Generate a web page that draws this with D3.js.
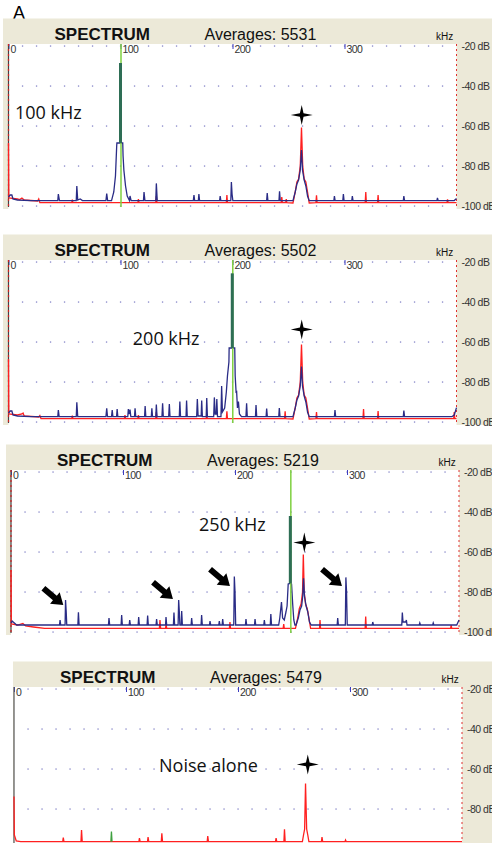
<!DOCTYPE html>
<html>
<head>
  <meta charset="utf-8">
  <script src="https://d3js.org/d3.v7.min.js"></script>
  <style>
    body { margin: 0; background: #fff; }
    svg { display: block; }
    .hdr { font-family: "Liberation Sans", Arial, sans-serif; fill: #111; }
    .tick text { font-family: "Liberation Sans Narrow", "Liberation Sans", Arial, sans-serif; }
    .note { font-family: "Open Sans", "Noto Sans", sans-serif; font-size: 18px; fill: #111; }
  </style>
</head>
<body>
<svg width="492" height="843"></svg>
<script>

// ---- data ----
const freqTicks = [0, 100, 200, 300];
const dbTicks = [-20, -40, -60, -80, -100];
const averages = ["5531", "5502", "5219", "5479"];
const notes = ["100 kHz", "200 kHz", "250 kHz", "Noise alone"];
const notePos = [[5.8, -56.5], [111, -61.5], [167.9, -49.3], [129.5, -61.5]];

// driven tone: frequency, top of the spike, foot of the dark part
const carrierKHz = [100, 199.8, 249.4];
const carrierPeakDb = [-28.5, -25.7, -42];
const carrierFootDb = [-68.5, -63, -75.7];

// star marks over the 262 kHz noise line
const starPos = [[261.8, -54.5], [261.8, -53.7], [261.9, -55.3], [262.3, -57.7]];
// arrows (tip position) in panel 3
const arrowTips = [[46.7, -86.5], [144.6, -83.5], [195.5, -77], [295.5, -77]];

const p1Blue = [[0,-95.5],[1.5,-94.5],[3,-94.5],[4,-96.5],[8,-97],[20,-97.3],
  [44,-97.3],[44.5,-94],[45.5,-97.3],[60.5,-97.3],[61,-90],[61.8,-97],[64,-96.5],[66,-97.3],
  [87,-97.3],[87.7,-93.8],[88.5,-97.3],
  [92,-97.3],[94,-93],[95.5,-85],[96.6,-70],[96.8,-68.5],[99.3,-68.5],[99.5,-28.5],[99.7,-68.5],[102,-68.5],[102.3,-75],[103,-82],[104.5,-90],[106,-95],[108,-97.3],
  [108.5,-95],[109.5,-97.3],[120.5,-97.3],[121,-93],[121.8,-97.3],[131.5,-97.3],[132,-88.7],[132.8,-97.3],
  [165,-97.3],[165.6,-94.5],[166.2,-97.3],[169.5,-97.3],[170,-94],[170.6,-97.3],
  [188.5,-97.3],[189,-95],[189.6,-97.3],[198.5,-97.3],[199,-88],[199.6,-94],[200.3,-97.3],
  [230.5,-97.3],[231,-93.5],[231.6,-97.3],[241.5,-97.3],[242,-92.7],[242.6,-97.3],
  [254,-97.3],[256,-93],[257.5,-89],[259,-87],[260.5,-82],[261.6,-72],[262.5,-82],[264,-87],[265.5,-90],[267,-95],[268.5,-97.3],
  [290.5,-97.3],[291,-95],[291.6,-97.3],[298.5,-97.3],[299,-94],[299.6,-97.3],[306.5,-97.3],[307,-95],[307.6,-97.3],
  [352.5,-97.3],[353,-95],[353.6,-97.3],[382.5,-97.3],[383,-96],[383.6,-97.3],[398,-97.3],[400,-96.3]];

const p1Red = [[0,-68.5],[0.3,-96],[8,-96.5],[10,-96.8],[12,-96],[14,-97],[26,-97.5],[27,-96.5],[28,-98.3],
  [56.5,-98.3],[57,-96.8],[57.5,-98.3],[115.5,-98.3],[116,-96.5],[116.5,-98.3],[131.5,-98.3],[132,-95],[132.5,-98.3],
  [194.5,-98.3],[195,-94.5],[195.5,-98.3],[243.5,-98.3],[244,-95.5],[244.5,-98.3],[247.5,-98.3],[248,-96.5],[248.5,-98.3],
  [254,-98.5],[256,-93],[257.5,-88],[259,-86.5],[260.5,-80],[261.6,-60.8],[262.7,-80],[264,-86.5],[265.5,-88],[267,-93],[268.5,-98.5],
  [274.5,-98.3],[275,-94.7],[275.5,-98.3],[318.5,-98.3],[319,-93],[319.5,-98.3],[329.5,-98.3],[330,-94.5],[330.5,-98.3],
  [391.5,-98.3],[392,-96.7],[392.5,-98.3],[400,-98.3]];

const p2Blue = [[0,-95.5],[1.5,-94.5],[3,-94.5],[4,-96.5],[8,-97],[20,-97.3],
  [44,-97.3],[44.5,-94],[45.2,-97.3],[60.5,-97.3],[61,-90.2],[61.8,-97.3],
  [87,-97.3],[87.7,-93.2],[88.4,-97.3],[92,-97.3],[92.6,-94],[93.2,-97.3],[96.5,-97.3],[97,-93.5],[97.6,-97.3],
  [106.5,-97.3],[107,-93.5],[107.6,-96],[108.5,-93.8],[109.2,-97.3],[112.5,-97.3],[113,-93.2],[113.6,-97.3],
  [121.5,-97.3],[122,-92],[122.6,-97.3],[127.5,-97.3],[128,-93.2],[128.6,-97.3],[131.5,-97.3],[132,-91.3],[132.6,-97.3],
  [137,-97.3],[137.6,-90.7],[138.2,-97.3],[143,-97.3],[143.6,-91],[144.2,-97.3],
  [152.5,-97.3],[153,-89.8],[153.6,-97.3],[158.5,-97.3],[159,-89.3],[159.6,-97.3],
  [168,-97.3],[168.6,-88.5],[169.3,-97],[172,-97],[172.5,-89.3],[173.1,-97.3],[176.5,-97.3],[177,-88],[177.6,-97.3],
  [183.2,-97.3],[183.8,-87.7],[184.5,-96],[185.5,-96],[186,-88.5],[186.6,-97.3],
  [189.7,-97.3],[190.3,-82],[191,-95],[193,-93],[194.5,-85],[195.5,-77],[196.8,-70],[197,-63],[199.6,-63],[199.8,-25.7],[200,-63],[202,-63],
  [202.4,-77],[203.2,-85],[203.7,-84.8],[204.4,-93],[205.3,-89.8],[206.2,-96],[208,-97.3],
  [212,-97.3],[212.6,-90.7],[213.2,-97.3],[220.5,-97.3],[221,-91.5],[221.6,-97.3],[230,-97.3],[230.5,-93.3],[231.1,-97.3],
  [241.3,-97.3],[241.8,-93],[242.4,-97.3],
  [254,-97.3],[256,-93],[257.5,-89],[259,-87],[260.5,-82],[261.6,-72.3],[262.5,-82],[264,-87],[265.5,-90],[267,-95],[268.5,-97.3],
  [291,-97.3],[291.5,-94],[292.1,-97.3],[352.5,-97.3],[353,-94.3],[353.6,-97.3],[396,-97.3],[398,-96.5],[400,-92.8]];

const p2Red = [[0,-68.5],[0.3,-96],[8,-96.5],[12,-96],[13,-95.5],[14,-97],[27,-97.5],[28,-96.8],[29,-98.3],
  [56.5,-98.3],[57,-96.8],[57.5,-98.3],[103.5,-98.3],[104,-96.5],[104.5,-98.3],[115.5,-98.3],[116,-96.5],[116.5,-98.3],
  [131.5,-98.3],[132,-95],[132.5,-98.3],[176.5,-98.3],[177,-96.5],[177.5,-98.3],[194.5,-98.3],[195,-94.7],[195.5,-98.3],
  [246.5,-98.3],[247,-94.7],[247.5,-98.3],
  [254,-98.5],[256,-93],[257.5,-88],[259,-86.5],[260.5,-80],[261.6,-61.2],[262.7,-80],[264,-86.5],[265.5,-88],[267,-93],[268.5,-98.5],
  [274.5,-98.3],[275,-95],[275.5,-98.3],[316.5,-98.3],[317,-93.5],[317.5,-98.3],[329.5,-98.3],[330,-94.5],[330.5,-98.3],
  [397.5,-98.3],[398,-95],[398.5,-98.3],[400,-98.3]];

const p3Blue = [[0,-95.5],[1,-94.5],[3,-95.5],[5,-96.5],
  [43.3,-96.5],[43.8,-94],[44.4,-96.5],[48.3,-96.5],[48.7,-84],[49.3,-90],[49.8,-96.5],[59.7,-96.5],[60.2,-90.2],[60.8,-96.5],
  [87,-96.5],[87.5,-93],[88.1,-96.5],[98.3,-96.5],[98.8,-91.5],[99.4,-96.5],[105.5,-96.5],[106,-94],[106.6,-96.5],
  [113.5,-96.5],[114,-92.5],[114.6,-96.5],[121.5,-96.5],[122,-91.8],[122.6,-96.5],[129.5,-96.5],[130,-93.5],[130.6,-96.5],
  [138,-96.5],[138.4,-92.5],[139,-96.5],[145,-96.5],[145.5,-90.3],[146.1,-96.5],
  [149.2,-96.5],[149.7,-84],[150.3,-90],[150.8,-96.5],[152,-96.5],[152.4,-89.5],[153,-96.5],
  [160.8,-96.5],[161.3,-93],[161.9,-96.5],[169.7,-96.5],[170.2,-91.5],[170.8,-96.5],[177.2,-96.5],[177.7,-94.5],[178.3,-96.5],
  [185.5,-96.5],[186,-94.5],[186.6,-96.5],[188.5,-96.5],[189,-93.5],[189.6,-96.5],
  [198.9,-96.5],[199.4,-72.3],[200,-80],[200.6,-96.5],
  [209.3,-96.5],[209.8,-93.5],[210.4,-96.5],[217.4,-96.5],[217.9,-93.5],[218.5,-96.5],[225.7,-96.5],[226.2,-94],[226.8,-96.5],
  [231.5,-96.5],[232,-91],[232.6,-96.5],
  [239,-96.5],[240,-93],[241.5,-85],[242.5,-93],[244,-94],[245.5,-90],[246.5,-87],[247.5,-76],[249.2,-75.7],[249.4,-42],[249.7,-75.7],
  [250.5,-76],[251.5,-86],[252.5,-94],[253.5,-96.5],
  [254.5,-96.5],[256.5,-93],[258,-89],[259.5,-87],[260.5,-82],[261.2,-73.2],[262,-82],[263.5,-87],[265,-90],[266.5,-95],[268,-96.5],
  [291.2,-96.5],[291.7,-93],[292.3,-96.5],[298.5,-96.5],[299,-72.7],[299.6,-80],[300.2,-96.5],
  [322.5,-96.5],[323,-95],[323.6,-96.5],[348.9,-96.5],[349.4,-90.3],[350,-95],[352.5,-95],[353,-94],[353.6,-96.5],
  [364.5,-96.5],[365,-95.5],[365.6,-96.5],[376.5,-96.5],[377,-95.5],[377.6,-96.5],[398,-96.5],[400,-94]];

const p3Red = [[0,-69],[0.3,-96],[6,-96.5],[10.6,-95.7],[13,-97],[20,-97.5],[30,-98.2],
  [132.5,-98.2],[133,-94],[133.6,-98.2],[138,-98.2],[138.5,-96],[139,-98.2],[195,-98.2],[195.5,-95],[196,-98.2],
  [243,-98.2],[243.5,-96],[244,-98.2],
  [254,-98.2],[256,-93],[257.4,-88.3],[259,-86],[260.3,-80],[261,-61.2],[261.8,-80],[263,-86],[264.5,-88.3],[266,-93],[267.5,-98.2],
  [275.5,-98.2],[275.9,-94],[276.4,-98.2],[316.2,-98.2],[316.7,-92.3],[317.2,-98.2],[392.5,-98.2],[393,-96.5],[393.5,-98.2],[400,-98.2]];

const p4Red = [[0,-73.8],[0.3,-93],[2,-96],[6,-96.3],[43.5,-96.3],[44,-94.3],[44.6,-96.3],[59.8,-96.3],[60.3,-90.5],[60.9,-96.3],
  [111.5,-96.3],[112,-94.5],[112.6,-96.3],[119.2,-96.3],[119.7,-94],[120.3,-96.3],[131.5,-96.3],[132,-92.2],[132.6,-96.3],
  [172.5,-96.3],[173,-93.5],[173.6,-96.3],[233.5,-96.3],[234,-94.5],[234.6,-96.3],[241,-96.3],[241.5,-90.2],[242.1,-96.3],
  [257.5,-96.3],[258.5,-93],[259.5,-90],[260.3,-67.2],[261.3,-90],[262.3,-93],[263.3,-96.3],
  [274.5,-96.3],[275,-94],[275.6,-96.3],[295.5,-96.3],[296,-95.5],[296.6,-96.3],[400,-96.3]];
const p4Green = [[86.5,-96.3],[87,-91.3],[87.5,-96.3]];

const blueSeries = [p1Blue, p2Blue, p3Blue, null];
const redSeries = [p1Red, p2Red, p3Red, p4Red];

// ---- layout ----
const svg = d3.select("svg");
const W = 492;
const frames = [
  { left: 3, x0: 8.5, y20: 46, bottom: 209 },
  { left: 3, x0: 8.5, y20: 262, bottom: 425 },
  { left: 6, x0: 11, y20: 472, bottom: 635 },
  { left: 13, x0: 14, y20: 689, bottom: 843 }
];
const beige = "#ece9d8";
const blue = "#2a2c86";
const red = "#ff2020";

svg.append("text").attr("x", 13).attr("y", 19)
  .attr("font-family", "Liberation Sans, Arial, sans-serif").attr("font-size", 18)
  .text("A");

function star(w, h) {
  const a = 1.8;
  return `M0,${-h}L${a},${-a}L${w},0L${a},${a}L0,${h}L${-a},${a}L${-w},0L${-a},${-a}Z`;
}

frames.forEach((f, i) => {
  const x = d3.scaleLinear().domain([0, 400]).range([f.x0, f.x0 + 448]);
  const y = d3.scaleLinear().domain([-20, -100]).range([f.y20, f.y20 + 160]);
  const g = svg.append("g");
  const top = f.y20 - 27.5;

  // frame
  g.append("rect").attr("x", f.left).attr("y", top)
    .attr("width", W - f.left).attr("height", f.bottom - top).attr("fill", beige);
  g.append("rect").attr("x", f.x0).attr("y", f.y20 - 2)
    .attr("width", 448).attr("height", f.bottom - f.y20 + 2).attr("fill", "#fff");

  // header
  g.append("text").attr("class", "hdr").attr("x", f.x0 + 46).attr("y", f.y20 - 6)
    .attr("font-size", 17).attr("font-weight", "bold").text("SPECTRUM");
  g.append("text").attr("class", "hdr").attr("x", f.x0 + 196).attr("y", f.y20 - 6)
    .attr("font-size", 16).text("Averages: " + averages[i]);
  g.append("text").attr("class", "hdr").attr("x", f.x0 + 427.5).attr("y", f.y20 - 6)
    .attr("font-size", 10).attr("fill", "#333").text("kHz");

  // dotted grid
  const dotF = d3.range(12.5, 400, 12.5);
  dbTicks.forEach(db => {
    g.selectAll(null).data(dotF).join("rect")
      .attr("x", d => x(d) - 0.6).attr("y", y(db) - 0.6)
      .attr("width", 1.3).attr("height", 1.3).attr("fill", "#8585c8");
  });

  // frequency axis along the top
  const ax = g.append("g").attr("transform", `translate(0,${f.y20 - 2})`)
    .call(d3.axisBottom(x).tickValues(freqTicks).tickSize(5).tickFormat(d3.format("d")));
  ax.select(".domain").remove();
  ax.selectAll("line").attr("stroke", "#3d3dc0").attr("stroke-width", 1);
  ax.selectAll("text").attr("text-anchor", "start").attr("x", 1.5).attr("y", 2)
    .attr("dy", "0.71em").attr("font-size", 10.5).attr("letter-spacing", -0.6).attr("fill", "#333");

  // dB axis on the right
  const ay = g.append("g").attr("transform", `translate(${f.x0 + 448},0)`)
    .call(d3.axisRight(y).tickValues(dbTicks).tickSize(0).tickPadding(5).tickFormat(d => d + " dB"));
  ay.select(".domain").remove();
  ay.selectAll("text").attr("font-size", 10.5).attr("letter-spacing", -0.5).attr("fill", "#333");

  // left and right plot edges
  if (i < 3) {
    g.append("line").attr("x1", f.x0).attr("x2", f.x0).attr("y1", f.y20 - 2).attr("y2", f.bottom - 2)
      .attr("stroke", "#444").attr("stroke-width", 1.2);
    g.append("line").attr("x1", f.x0).attr("x2", f.x0).attr("y1", f.y20 - 2).attr("y2", f.bottom - 2)
      .attr("stroke", "#d02020").attr("stroke-width", 1.2).attr("stroke-dasharray", "2,3");
  } else {
    g.append("line").attr("x1", f.x0).attr("x2", f.x0).attr("y1", f.y20 - 2).attr("y2", f.bottom)
      .attr("stroke", "#555").attr("stroke-width", 1.2);
  }
  g.append("line").attr("x1", f.x0 + 448).attr("x2", f.x0 + 448).attr("y1", f.y20 - 2).attr("y2", f.bottom - 2)
    .attr("stroke", "#e03030").attr("stroke-width", 1).attr("stroke-dasharray", "2,3");

  const line = d3.line().x(d => x(d[0])).y(d => y(d[1]));

  g.append("path").datum(redSeries[i]).attr("d", line)
    .attr("fill", "none").attr("stroke", red).attr("stroke-width", 1.3);
  if (blueSeries[i]) {
    g.append("path").datum(blueSeries[i]).attr("d", line)
      .attr("fill", "none").attr("stroke", blue).attr("stroke-width", 1.3);
  }
  if (i === 3) {
    g.append("path").datum(p4Green).attr("d", line)
      .attr("fill", "none").attr("stroke", "#3fa040").attr("stroke-width", 1.3);
  }

  // driven tone marker
  if (i < 3) {
    g.append("line").attr("x1", x(carrierKHz[i]) + 0.5).attr("x2", x(carrierKHz[i]) + 0.5)
      .attr("y1", f.y20 - 2).attr("y2", f.bottom - 2)
      .attr("stroke", "#7fd040").attr("stroke-width", 1.5);
    g.append("rect").attr("x", x(carrierKHz[i]) - 1.5).attr("y", y(carrierPeakDb[i]))
      .attr("width", 3).attr("height", y(carrierFootDb[i]) - y(carrierPeakDb[i]))
      .attr("fill", "#2e6e55");
  }

  // annotations
  g.append("text").attr("class", "note").attr("x", x(notePos[i][0])).attr("y", y(notePos[i][1]))
    .text(notes[i]);
  g.append("path").attr("d", star(11, 10))
    .attr("transform", `translate(${x(starPos[i][0])},${y(starPos[i][1])})`)
    .attr("fill", "#000");

  if (i === 2) {
    g.selectAll(".arrow").data(arrowTips).join("path").attr("class", "arrow")
      .attr("d", "M0,0L-11,-7.5L-11,-3L-26,-3L-26,3L-11,3L-11,7.5Z")
      .attr("transform", d => `translate(${x(d[0])},${y(d[1])}) rotate(40)`)
      .attr("fill", "#000");
  }
});

</script>
</body>
</html>
